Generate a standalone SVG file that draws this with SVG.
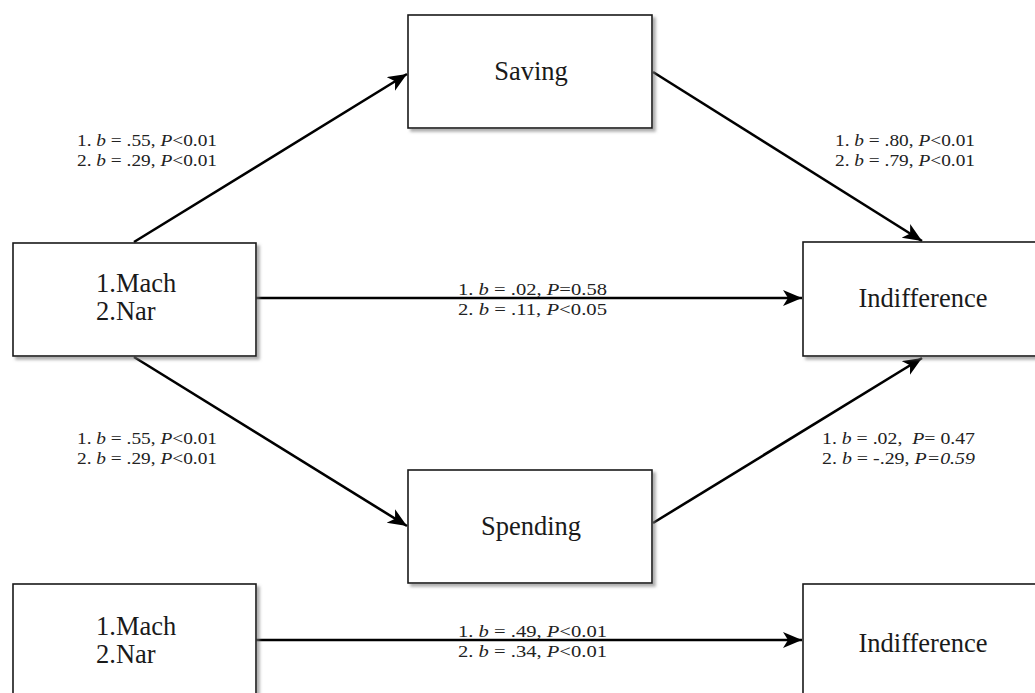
<svg xmlns="http://www.w3.org/2000/svg" width="1035" height="693" viewBox="0 0 1035 693">
<style>
.box{fill:#fff;stroke:#1a1a1a;stroke-width:1.6;filter:url(#sh)}
.bt{font-family:"Liberation Serif","Times New Roman",serif;font-size:26.5px;fill:#1a1a1a}
.lb{font-family:"Liberation Serif","Times New Roman",serif;font-size:17px;fill:#222;white-space:pre}
.it{font-style:italic}
.ar{stroke:#000;stroke-width:2.6;fill:none;marker-end:url(#ah)}
</style>
<defs>
<filter id="sh" x="-10%" y="-10%" width="130%" height="130%">
<feDropShadow dx="3" dy="3" stdDeviation="1.5" flood-color="#777" flood-opacity="0.6"/>
</filter>
<marker id="ah" markerUnits="userSpaceOnUse" markerWidth="22" markerHeight="18" refX="19" refY="8" orient="auto">
<path d="M0,0 L19,8 L0,16 L5,8 z" fill="#000"/>
</marker>
</defs>
<rect width="1035" height="693" fill="#fff"/>
<g id="connectors">
<line class="ar" x1="134" y1="242" x2="407" y2="74"/>
<line class="ar" x1="653" y1="72" x2="922" y2="241"/>
<line class="ar" x1="256" y1="298" x2="802" y2="298"/>
<line class="ar" x1="134" y1="357" x2="407" y2="526"/>
<line class="ar" x1="653" y1="523" x2="922" y2="358"/>
<line class="ar" x1="256" y1="640" x2="802" y2="640"/>
</g>
<g id="saving"><rect class="box" x="408" y="15" width="244" height="113"/><text class="bt" x="531" y="80" text-anchor="middle">Saving</text></g>
<g id="predictors"><rect class="box" x="13" y="243" width="243" height="113"/><text class="bt" x="96" y="292">1.Mach</text><text class="bt" x="96" y="320">2.Nar</text></g>
<g id="indifference"><rect class="box" x="803" y="242" width="245" height="114"/><text class="bt" x="923" y="307" text-anchor="middle">Indifference</text></g>
<g id="spending"><rect class="box" x="408" y="470" width="244" height="113"/><text class="bt" x="531" y="535" text-anchor="middle">Spending</text></g>
<g id="predictors2"><rect class="box" x="13" y="584" width="243" height="125"/><text class="bt" x="96" y="635">1.Mach</text><text class="bt" x="96" y="663">2.Nar</text></g>
<g id="indifference2"><rect class="box" x="803" y="584" width="245" height="125"/><text class="bt" x="923" y="652" text-anchor="middle">Indifference</text></g>
<g id="labels">
<text class="lb" x="77" y="146" textLength="140" lengthAdjust="spacingAndGlyphs">1. <tspan class="it">b</tspan> = .55, <tspan class="it">P</tspan>&lt;0.01</text>
<text class="lb" x="77" y="166" textLength="140" lengthAdjust="spacingAndGlyphs">2. <tspan class="it">b</tspan> = .29, <tspan class="it">P</tspan>&lt;0.01</text>
<text class="lb" x="835" y="146" textLength="140" lengthAdjust="spacingAndGlyphs">1. <tspan class="it">b</tspan> = .80, <tspan class="it">P</tspan>&lt;0.01</text>
<text class="lb" x="835" y="166" textLength="140" lengthAdjust="spacingAndGlyphs">2. <tspan class="it">b</tspan> = .79, <tspan class="it">P</tspan>&lt;0.01</text>
<text class="lb" x="458" y="295" textLength="149" lengthAdjust="spacingAndGlyphs">1. <tspan class="it">b</tspan> = .02, <tspan class="it">P</tspan>=0.58</text>
<text class="lb" x="458" y="315" textLength="149" lengthAdjust="spacingAndGlyphs">2. <tspan class="it">b</tspan> = .11, <tspan class="it">P</tspan>&lt;0.05</text>
<text class="lb" x="77" y="444" textLength="140" lengthAdjust="spacingAndGlyphs">1. <tspan class="it">b</tspan> = .55, <tspan class="it">P</tspan>&lt;0.01</text>
<text class="lb" x="77" y="464" textLength="140" lengthAdjust="spacingAndGlyphs">2. <tspan class="it">b</tspan> = .29, <tspan class="it">P</tspan>&lt;0.01</text>
<text class="lb" x="822" y="444" textLength="153" lengthAdjust="spacingAndGlyphs">1. <tspan class="it">b</tspan> = .02,  <tspan class="it">P</tspan>= 0.47</text>
<text class="lb" x="822" y="464" textLength="153" lengthAdjust="spacingAndGlyphs">2. <tspan class="it">b</tspan> = -.29, <tspan class="it">P=0.59</tspan></text>
<text class="lb" x="458" y="637" textLength="149" lengthAdjust="spacingAndGlyphs">1. <tspan class="it">b</tspan> = .49, <tspan class="it">P</tspan>&lt;0.01</text>
<text class="lb" x="458" y="657" textLength="149" lengthAdjust="spacingAndGlyphs">2. <tspan class="it">b</tspan> = .34, <tspan class="it">P</tspan>&lt;0.01</text>
</g>
</svg>
